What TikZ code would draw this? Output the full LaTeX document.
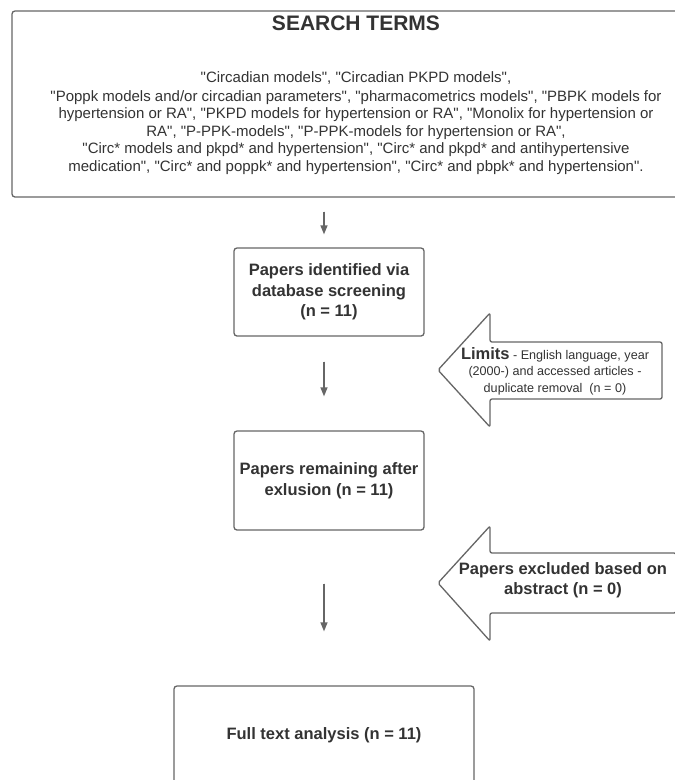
\documentclass[tikz,border=0pt]{standalone}
\usepackage{fontspec}
\setmainfont{Liberation Sans}[Ligatures=TeXOff]
\usetikzlibrary{arrows.meta,positioning}
\definecolor{linegray}{HTML}{666666}
\definecolor{textgray}{HTML}{333333}

\begin{document}
\begin{tikzpicture}[x=1pt,y=-1pt,>={Triangle[length=9pt,width=7pt]},line width=1.3pt,
    main box/.style={draw=linegray,rounded corners=3pt,text=textgray,align=center,inner sep=0pt,font=\fontsize{16.5}{20.5}\selectfont\bfseries},
    side arrow/.style={draw=linegray,rounded corners=2pt,line join=round},
    flow/.style={->,draw=linegray,fill=linegray}]

            \useasboundingbox[fill=white] (0,0) rectangle (675,780);

            % boxes
            \node[main box,minimum width=688pt,minimum height=186pt] (terms) at (356,104) {};
            \node[text=textgray,font=\fontsize{21}{25}\selectfont\bfseries] (title) at (356,23) {SEARCH TERMS};
            \node[text=textgray,align=center,font=\fontsize{15}{17.5}\selectfont] (terms text) at (356,123) {"Circadian models", "Circadian PKPD models",\\[1.5pt]
                "Poppk models and/or circadian parameters", "pharmacometrics models", "PBPK models for\\
                hypertension or RA", "PKPD models for hypertension or RA", "Monolix for hypertension or\\
                RA", "P-PPK-models", "P-PPK-models for hypertension or RA",\\
                "Circ* models and pkpd* and hypertension", "Circ* and pkpd* and antihypertensive\\
                medication", "Circ* and poppk* and hypertension", "Circ* and pbpk* and hypertension".};
            \node[main box,minimum width=190pt,minimum height=88pt] (ident) at (329,292) {Papers identified via\\database screening\\(n = 11)};
            \node[main box,minimum width=190pt,minimum height=99pt] (remain) at (329,480.5) {Papers remaining after\\exlusion (n = 11)};
            \node[main box,minimum width=300pt,minimum height=98pt] (full) at (324,735) {Full text analysis (n = 11)};

            % side arrows
            \draw[side arrow] (438,370) -- (490,313) -- (490,342) -- (662,342) -- (662,399) -- (490,399) -- (490,427) -- cycle;
            \node[text=textgray,align=center,font=\fontsize{12.6}{16.5}\selectfont] (lim) at (555,371) {{\fontsize{16.5}{16.5}\selectfont\bfseries Limits} - English language, year\\(2000-) and accessed articles -\\duplicate removal\ \ (n = 0)};
            \draw[side arrow] (438,583) -- (490,526) -- (490,553) -- (676,553) -- (676,613) -- (490,613) -- (490,641) -- cycle;
            \node[text=textgray,align=center,font=\fontsize{16.5}{20}\selectfont\bfseries] (excl) at (563,580) {Papers excluded based on\\abstract (n = 0)};

            % flow
            \draw[flow,shorten <=14pt,shorten >=13pt] (terms.south -| full.north) -- (ident.north -| full.north);
            \draw[flow,shorten <=25pt,shorten >=34pt] (ident.south -| full.north) -- (remain.north -| full.north);
            \draw[flow,shorten <=53pt,shorten >=54pt] (remain.south -| full.north) -- (full.north);
        \end{tikzpicture}
\end{document}
